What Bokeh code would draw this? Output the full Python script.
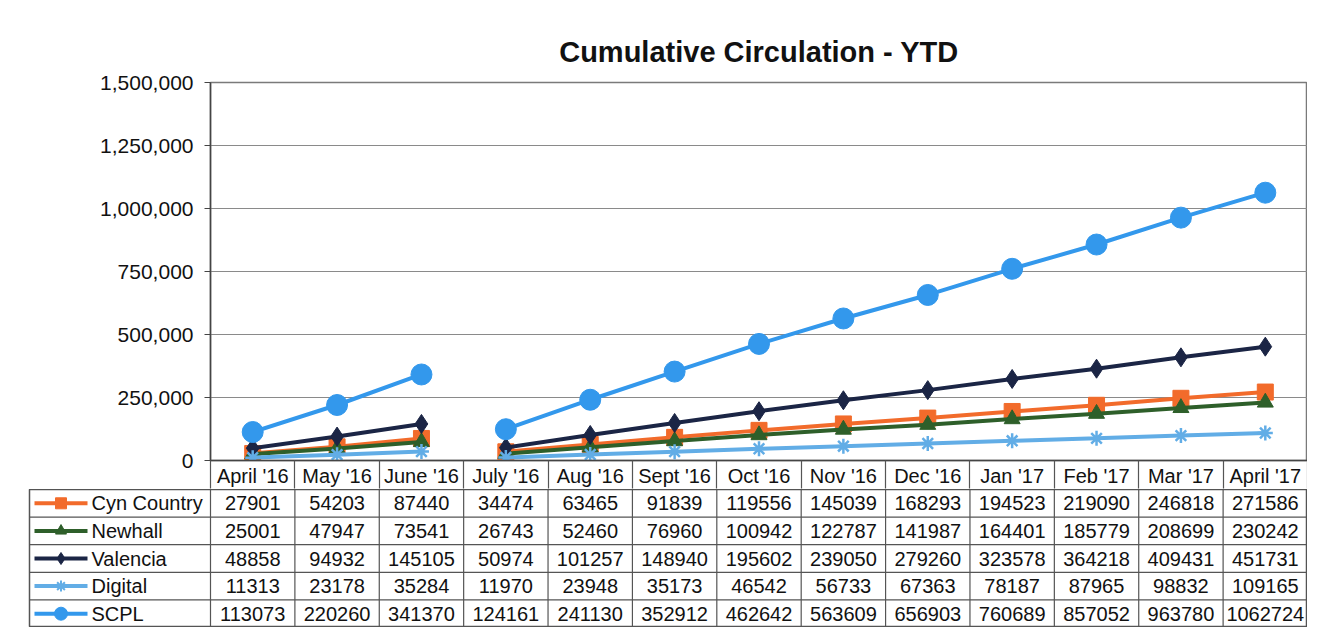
from bokeh.plotting import figure
from bokeh.layouts import column
from bokeh.models import FixedTicker, NumeralTickFormatter, Range1d
from bokeh.embed import file_html
from bokeh.resources import INLINE
from bokeh.core.properties import value

# ---------------- data ----------------
months = ["April '16", "May '16", "June '16", "July '16", "Aug '16", "Sept '16", "Oct '16",
          "Nov '16", "Dec '16", "Jan '17", "Feb '17", "Mar '17", "April '17"]
cyn_country = [27901, 54203, 87440, 34474, 63465, 91839, 119556, 145039, 168293, 194523, 219090, 246818, 271586]
newhall = [25001, 47947, 73541, 26743, 52460, 76960, 100942, 122787, 141987, 164401, 185779, 208699, 230242]
valencia = [48858, 94932, 145105, 50974, 101257, 148940, 195602, 239050, 279260, 323578, 364218, 409431, 451731]
digital = [11313, 23178, 35284, 11970, 23948, 35173, 46542, 56733, 67363, 78187, 87965, 98832, 109165]
scpl = [113073, 220260, 341370, 124161, 241130, 352912, 462642, 563609, 656903, 760689, 857052, 963780, 1062724]
series_names = ["Cyn Country", "Newhall", "Valencia", "Digital", "SCPL"]
series_values = [cyn_country, newhall, valencia, digital, scpl]
y_ticks = [0, 250000, 500000, 750000, 1000000, 1250000, 1500000]
segment_breaks = [0, 3, 13]  # fiscal-year reset after June '16

# ---------------- styles ----------------
colors = ["#F26B2B", "#2E5F2A", "#1B2545", "#62ADE6", "#3398EC"]
markers = ["square", "triangle", "diamond", "asterisk", "circle"]
marker_sizes = [16, 16, 19, 15, 21]
legend_marker_sizes = [11, 11, 12, 11, 13]
FONT = "Liberation Sans"

W = 1307
TOTAL_H = 627
FRAME_L = 210
FRAME_R = 0
TOP = 82
PLOT_H = 379
HEADER_H = 28
TABLE_L = 29
CHART_H = TOP + PLOT_H + HEADER_H

n = len(months)
xs = list(range(n))

# ---------------- chart ----------------
p = figure(width=W, height=CHART_H,
           x_range=Range1d(-0.5, n - 0.5), y_range=Range1d(0, 1500000),
           output_backend="svg", toolbar_location=None,
           min_border_left=FRAME_L, min_border_right=FRAME_R,
           min_border_top=TOP, min_border_bottom=HEADER_H,
           title="Cumulative Circulation - YTD")
try:
    p.frame_align = False
except Exception:
    pass
p.title.text_font = FONT
p.title.text_font_size = "29px"
p.title.text_font_style = "bold"
p.title.align = "center"
p.title.standoff = 29
p.title.text_color = "#111111"

p.outline_line_color = "#7a7a7a"
p.outline_line_width = 1.5
p.background_fill_color = "white"
p.border_fill_color = "white"

p.yaxis.ticker = FixedTicker(ticks=y_ticks)
p.yaxis.formatter = NumeralTickFormatter(format="0,0")
p.yaxis.major_label_text_font = FONT
p.yaxis.major_label_text_font_size = "21px"
p.yaxis.major_label_text_color = "#111111"
p.yaxis.major_tick_out = 6
p.yaxis.major_tick_in = 0
p.yaxis.minor_tick_out = 0
p.yaxis.minor_tick_in = 0
p.yaxis.major_label_standoff = 11
p.yaxis.axis_line_color = "#444444"
p.yaxis.axis_line_width = 1.5
p.yaxis.major_tick_line_color = "#444444"

bounds = [i - 0.5 for i in range(n + 1)]
p.xaxis.ticker = FixedTicker(ticks=xs, minor_ticks=bounds)
p.xaxis.major_label_overrides = {i: m for i, m in enumerate(months)}
p.xaxis.major_tick_out = 0
p.xaxis.major_tick_in = 0
p.xaxis.minor_tick_out = HEADER_H
p.xaxis.minor_tick_in = 0
p.xaxis.minor_tick_line_color = "#555555"
p.xaxis.minor_tick_line_width = 1.2
p.xaxis.major_label_standoff = 4 - HEADER_H
p.xaxis.major_label_text_font = FONT
p.xaxis.major_label_text_font_size = "20px"
p.xaxis.major_label_text_color = "#111111"
p.xaxis.axis_line_color = "#444444"
p.xaxis.axis_line_width = 1.5

p.xgrid.visible = False
p.ygrid.ticker = FixedTicker(ticks=y_ticks)
p.ygrid.grid_line_color = "#8a8a8a"
p.ygrid.grid_line_width = 1.2

for name, vals, col, mk, ms in zip(series_names, series_values, colors, markers, marker_sizes):
    for a, b in zip(segment_breaks[:-1], segment_breaks[1:]):
        p.line(xs[a:b], vals[a:b], line_color=col, line_width=4)
    p.scatter(xs, vals, marker=mk, size=ms, fill_color=col, line_color=col,
              line_width=2.5 if mk == "asterisk" else 1)

# ---------------- data table ----------------
unit = (W - FRAME_L - FRAME_R) / n
x_left = -0.5 - (FRAME_L - TABLE_L) / unit
nrows = len(series_names)

t = figure(width=W, height=TOTAL_H - CHART_H,
           x_range=Range1d(x_left, n - 0.5), y_range=Range1d(0, nrows),
           output_backend="svg", toolbar_location=None,
           min_border_left=TABLE_L, min_border_right=FRAME_R,
           min_border_top=0, min_border_bottom=0)
try:
    t.frame_align = False
except Exception:
    pass
t.axis.visible = False
t.grid.visible = False
t.outline_line_color = "#555555"
t.outline_line_width = 1.5

# cell borders
hy = list(range(nrows + 1))
t.segment(x0=[x_left] * len(hy), y0=hy, x1=[n - 0.5] * len(hy), y1=hy,
          line_color="#555555", line_width=1.2)
t.segment(x0=bounds, y0=[0] * len(bounds), x1=bounds, y1=[nrows] * len(bounds),
          line_color="#555555", line_width=1.2)

# values
tx, ty, tt = [], [], []
for r, vals in enumerate(series_values):
    for i, v in enumerate(vals):
        tx.append(i); ty.append(nrows - r - 0.5); tt.append(str(v))
t.text(x=tx, y=ty, text=tt, text_align="center", text_baseline="middle",
       text_font=value(FONT), text_font_size="20px", text_color="#111111")

# legend keys
key_x0 = x_left + 5 / unit
key_x1 = x_left + 58 / unit
key_xm = (key_x0 + key_x1) / 2
name_x = x_left + 62 / unit
for r, (name, col, mk, ms) in enumerate(zip(series_names, colors, markers, legend_marker_sizes)):
    yc = nrows - r - 0.5
    t.segment(x0=[key_x0], y0=[yc], x1=[key_x1], y1=[yc], line_color=col, line_width=4)
    t.scatter([key_xm], [yc], marker=mk, size=ms, fill_color=col, line_color=col,
              line_width=2 if mk == "asterisk" else 1)
t.text(x=[name_x] * nrows, y=[nrows - r - 0.5 for r in range(nrows)], text=series_names,
       text_align="left", text_baseline="middle",
       text_font=value(FONT), text_font_size="20px", text_color="#111111")

layout = column(p, t, spacing=0)
open("out.html", "w").write(file_html(layout, INLINE))
